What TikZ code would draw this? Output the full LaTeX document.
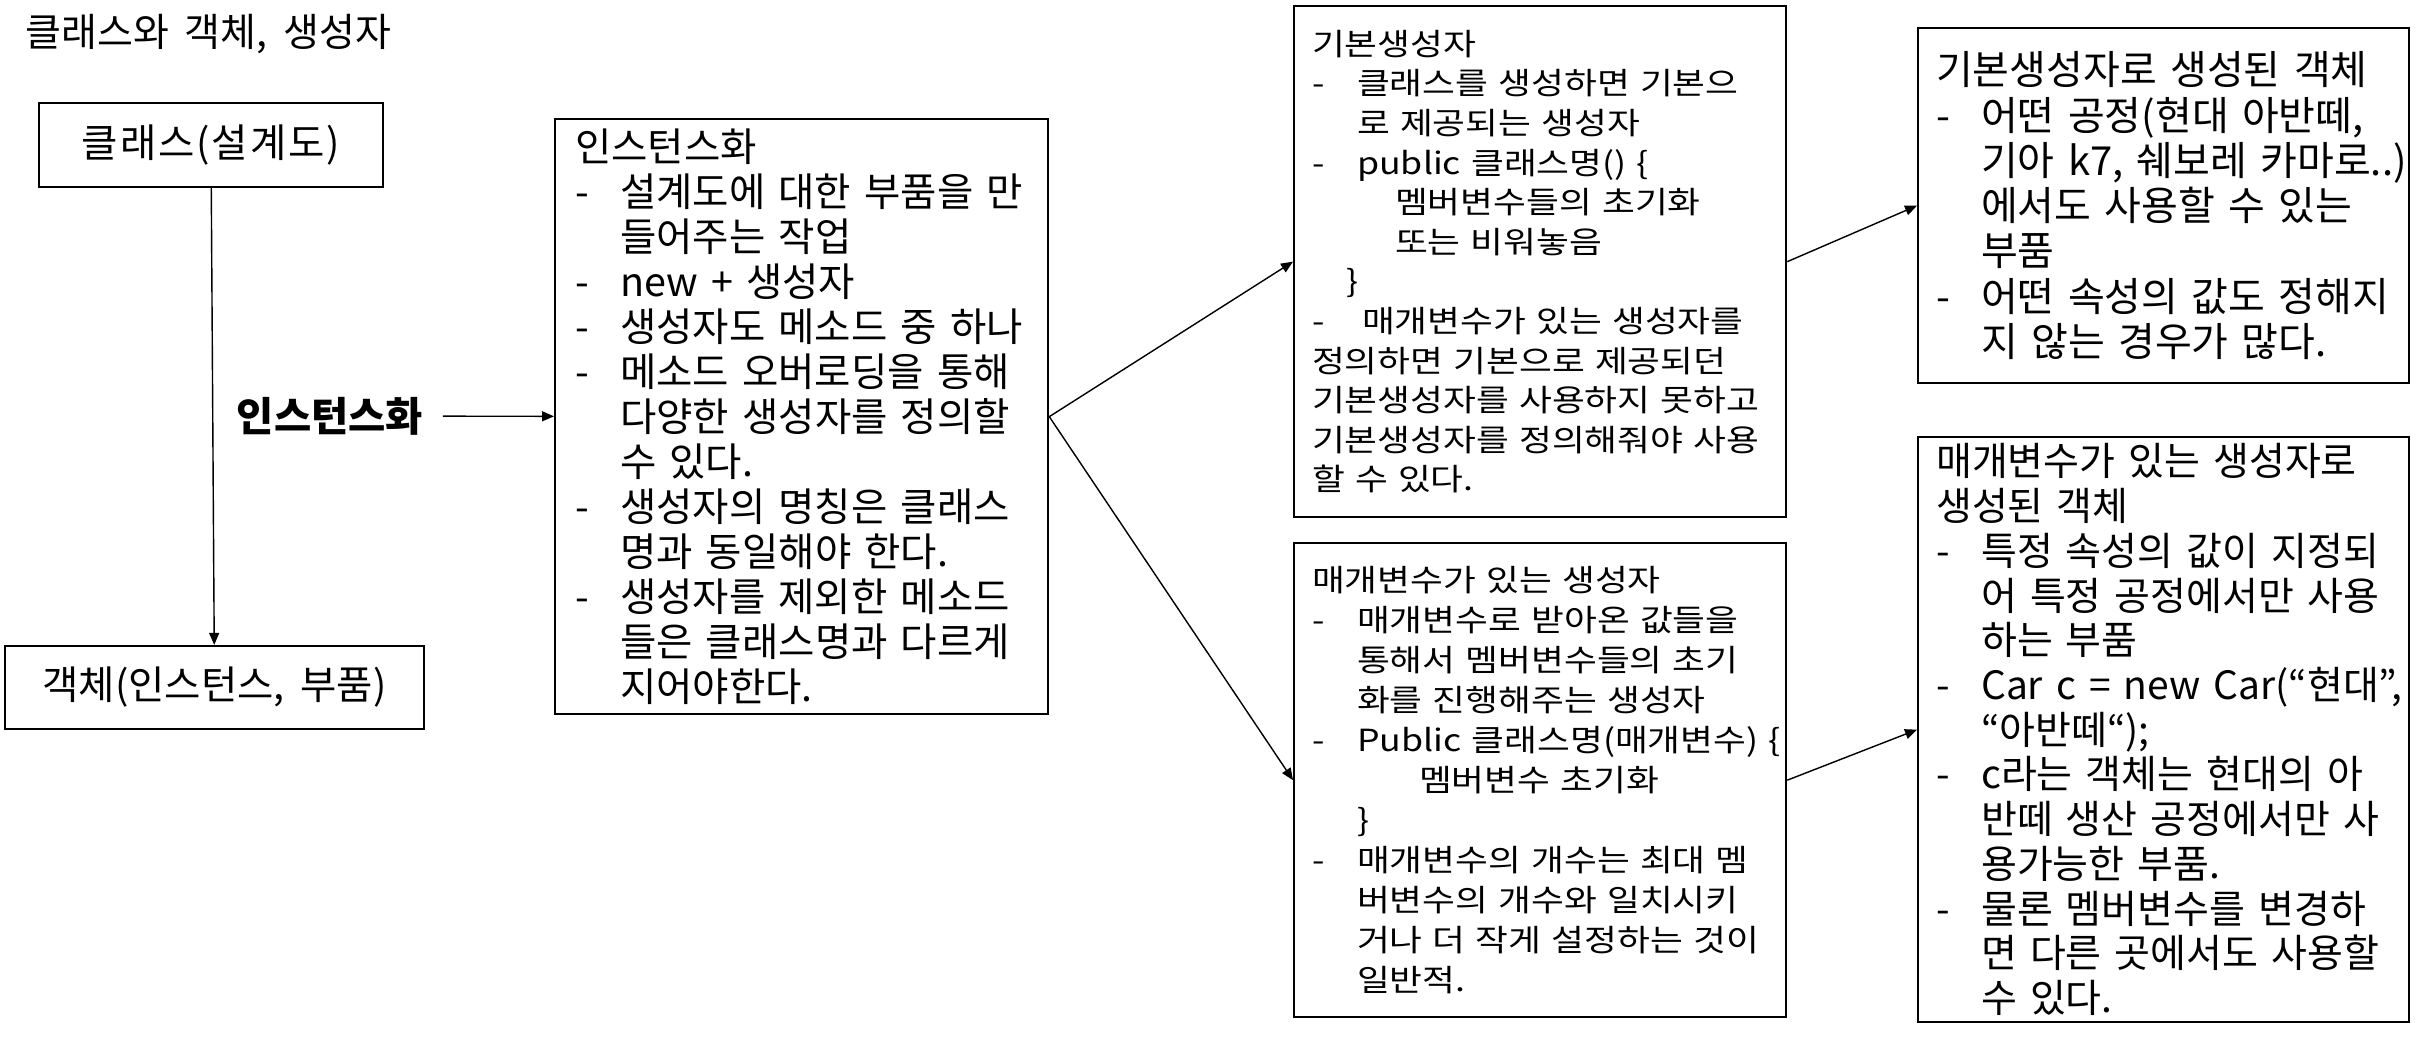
\documentclass[tikz,border=0pt]{standalone}
\usepackage{fontspec}
\setmainfont{Noto Sans CJK KR}[WordSpace=1.8]
\newfontfamily\krwide{Noto Sans CJK KR}[WordSpace=1.8,LetterSpace=5]
\newfontfamily\krthin{Noto Sans CJK KR}[FakeStretch=1.17,WordSpace=2.0]
\usetikzlibrary{arrows.meta}
\newcommand\kfont[2]{\fontsize{#1}{#2}\selectfont}
\newcommand\hy{\makebox[0.45cm][l]{-}}
\newcommand\hyind{\hspace*{0.45cm}}
\newcommand\nobrk{\rightskip=0pt plus 1fil minus 5cm\relax}

\begin{document}
\begin{tikzpicture}[>={Triangle[length=0.12cm,width=0.1cm]},
    box/.style={draw,line width=0.65pt,inner sep=0pt,font={\kfont{0.395cm}{0.45cm}}},
    txt/.style={draw,line width=0.65pt,anchor=north west,inner xsep=0.18cm,inner ysep=0pt,align=left},
    link/.style={->,line width=0.4pt}]
    \useasboundingbox (0,0) rectangle (24.17,-10.44);
    % left column
    \node[anchor=west,inner sep=0pt,font={\kfont{0.39cm}{0.45cm}}] (title) at (0.25,-0.34) {클래스와 객체, 생성자};
    \node[box,minimum width=3.44cm,minimum height=0.84cm,font={\krwide\kfont{0.395cm}{0.45cm}}] (cls) at (2.11,-1.45) {클래스(설계도)};
    \node[box,minimum width=4.19cm,minimum height=0.83cm] (obj) at (2.145,-6.875) {객체(인스턴스, 부품)};
    \node[inner xsep=0.19cm,font={\bfseries\kfont{0.405cm}{0.45cm}}] (instlbl) at (3.30,-4.16) {인스턴스화};
    % instantiation
    \node[txt,inner xsep=0.2cm,text width=4.53cm,minimum height=5.95cm,font={\kfont{0.395cm}{0.45cm}}] (inst) at (5.54,-1.18) {\nobrk
        인스턴스화\\
        \hy 설계도에 대한 부품을 만\\
        \hyind 들어주는 작업\\
        \hy new + 생성자\\
        \hy 생성자도 메소드 중 하나\\
        \hy 메소드 오버로딩을 통해\\
        \hyind 다양한 생성자를 정의할\\
        \hyind 수 있다.\\
        \hy 생성자의 명칭은 클래스\\
        \hyind 명과 동일해야 한다.\\
        \hy 생성자를 제외한 메소드\\
        \hyind 들은 클래스명과 다르게\\
        \hyind 지어야한다.};
    % constructors
    \node[txt,text width=4.56cm,minimum height=5.11cm,font={\krthin\kfont{0.305cm}{0.396cm}}] (defc) at (12.93,-0.05) {\nobrk
        기본생성자\\
        \hy 클래스를 생성하면 기본으\\
        \hyind 로 제공되는 생성자\\
        \hy public 클래스명() \{\\
        \hspace*{0.83cm}멤버변수들의 초기화\\
        \hspace*{0.83cm}또는 비워놓음\\
        \hspace*{0.34cm}\}\\
        \makebox[0.5cm][l]{-}매개변수가 있는 생성자를\\
        정의하면 기본으로 제공되던\\
        기본생성자를 사용하지 못하고\\
        기본생성자를 정의해줘야 사용\\
        할 수 있다.};
    \node[txt,text width=4.56cm,minimum height=4.74cm,font={\krthin\kfont{0.305cm}{0.40cm}}] (parc) at (12.93,-5.42) {\nobrk
        매개변수가 있는 생성자\\
        \hy 매개변수로 받아온 값들을\\
        \hyind 통해서 멤버변수들의 초기\\
        \hyind 화를 진행해주는 생성자\\
        \hy Public 클래스명(매개변수) \{\\
        \hspace*{1.07cm}멤버변수 초기화\\
        \hyind \}\\
        \hy 매개변수의 개수는 최대 멤\\
        \hyind 버변수의 개수와 일치시키\\
        \hyind 거나 더 작게 설정하는 것이\\
        \hyind 일반적.};
    % objects
    \node[txt,text width=4.55cm,minimum height=3.55cm,font={\kfont{0.40cm}{0.453cm}}] (objd) at (19.17,-0.27) {\nobrk
        기본생성자로 생성된 객체\\
        \hy 어떤 공정(현대 아반떼,\\
        \hyind 기아 k7, 쉐보레 카마로..)\\
        \hyind 에서도 사용할 수 있는\\
        \hyind 부품\\
        \hy 어떤 속성의 값도 정해지\\
        \hyind 지 않는 경우가 많다.};
    \node[txt,text width=4.55cm,minimum height=5.85cm,font={\kfont{0.39cm}{0.4475cm}}] (objp) at (19.17,-4.36) {\nobrk
        매개변수가 있는 생성자로\\
        생성된 객체\\
        \hy 특정 속성의 값이 지정되\\
        \hyind 어 특정 공정에서만 사용\\
        \hyind 하는 부품\\
        \hy Car c = new Car(“현대”,\\
        \hyind “아반떼“);\\
        \hy c라는 객체는 현대의 아\\
        \hyind 반떼 생산 공정에서만 사\\
        \hyind 용가능한 부품.\\
        \hy 물론 멤버변수를 변경하\\
        \hyind 면 다른 곳에서도 사용할\\
        \hyind 수 있다.};
    % arrows
    \draw[link] (cls) -- (obj);
    \draw[link] (instlbl) -- (inst);
    \draw[link] (inst.east) -- (defc.west);
    \draw[link] (inst.east) -- (parc.west);
    \draw[link] (defc.east) -- (objd.west);
    \draw[link] (parc.east) -- (objp.west);
\end{tikzpicture}
\end{document}
